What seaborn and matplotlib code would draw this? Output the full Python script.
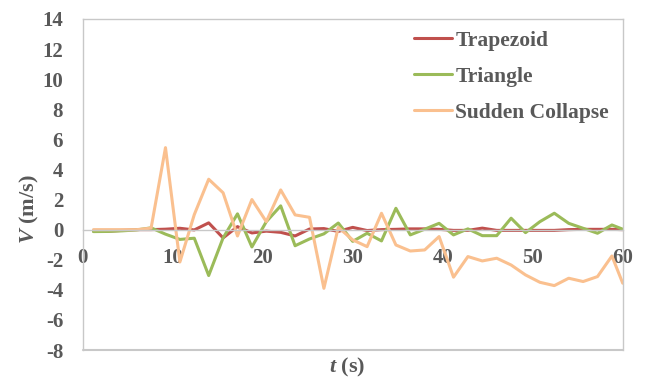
import numpy as np
import pandas as pd
import matplotlib
matplotlib.use("Agg")
import matplotlib.pyplot as plt
import seaborn as sns

# Sampling times (s)
time_s = [1.2, 2.8, 4.4, 6.0, 7.6, 9.2, 10.8, 12.4, 14.0, 15.6,
          17.2, 18.8, 20.4, 22.0, 23.6, 25.2, 26.8, 28.4, 30.0, 31.6,
          33.2, 34.8, 36.4, 38.0, 39.6, 41.2, 42.8, 44.4, 46.0, 47.6,
          49.2, 50.8, 52.4, 54.0, 55.6, 57.2, 58.8, 60.0]

# Velocity V (m/s) for each breach shape
trapezoid = [-0.10, -0.10, -0.05, 0.00, 0.00, 0.03, 0.09, -0.02, 0.45, -0.55,
             0.20, -0.22, -0.10, -0.18, -0.42, 0.04, 0.07, -0.12, 0.15, -0.06,
             0.00, 0.02, 0.05, 0.05, 0.02, -0.05, -0.05, 0.10, -0.05, -0.05,
             -0.05, -0.05, -0.05, 0.00, 0.02, 0.02, 0.02, 0.00]
triangle = [-0.13, -0.12, -0.08, -0.02, 0.12, -0.30, -0.65, -0.57, -3.05, -0.55,
            1.05, -1.15, 0.53, 1.58, -1.07, -0.62, -0.28, 0.44, -0.78, -0.24,
            -0.75, 1.42, -0.35, 0.03, 0.42, -0.35, 0.05, -0.40, -0.40, 0.76,
            -0.20, 0.53, 1.09, 0.42, 0.09, -0.24, 0.31, 0.03]
sudden_collapse = [0.00, 0.00, 0.00, 0.00, 0.10, 5.45, -2.15, 1.00, 3.35, 2.45,
                   -0.42, 2.00, 0.53, 2.64, 0.98, 0.82, -3.90, 0.15, -0.68, -1.13,
                   1.09, -1.02, -1.42, -1.35, -0.46, -3.16, -1.79, -2.08, -1.90, -2.35,
                   -3.01, -3.50, -3.72, -3.23, -3.45, -3.12, -1.75, -3.56]

series_names = ["Trapezoid", "Triangle", "Sudden Collapse"]
series_colors = ["#C0504D", "#9BBB59", "#FAC08F"]

x_ticks = [0, 10, 20, 30, 40, 50, 60]
y_ticks = [-8, -6, -4, -2, 0, 2, 4, 6, 8, 10, 12, 14]

df = pd.concat([
    pd.DataFrame({"t": time_s, "V": vals, "series": name})
    for name, vals in zip(series_names, [trapezoid, triangle, sudden_collapse])
], ignore_index=True)

sns.set_style("white")
plt.rcParams["font.family"] = ["Liberation Serif", "DejaVu Serif"]
plt.rcParams["font.weight"] = "bold"
plt.rcParams["mathtext.fontset"] = "custom"
plt.rcParams["mathtext.it"] = "Liberation Serif:italic:bold"
plt.rcParams["mathtext.rm"] = "Liberation Serif:bold"

text_color = "#595959"
frame_color = "#C8C8C8"

fig = plt.figure(figsize=(6.49, 3.79), dpi=100)
ax = fig.add_axes([0.1274, 0.0765, 0.8321, 0.8734])

sns.lineplot(data=df, x="t", y="V", hue="series", hue_order=series_names,
             palette=series_colors, linewidth=2.2, ax=ax, legend=True,
             sort=False)

ax.set_xlim(0, 60)
ax.set_ylim(-8, 14)
ax.set_xticks(x_ticks)
ax.set_yticks(y_ticks)
ax.set_xticklabels([str(v) for v in x_ticks])
ax.set_yticklabels([str(v) for v in y_ticks])

# Horizontal axis crosses at V = 0; plot-area border drawn around it
ax.spines["bottom"].set_position(("data", 0))
ax.spines["bottom"].set_color(frame_color)
ax.spines["bottom"].set_linewidth(1.0)
for side in ["left", "right", "top"]:
    ax.spines[side].set_color(frame_color)
    ax.spines[side].set_linewidth(1.0)
ax.axhline(-8, color=frame_color, linewidth=1.5, clip_on=False, zorder=0)

ax.tick_params(axis="x", length=0, pad=13, labelsize=15, labelcolor=text_color)
ax.tick_params(axis="y", length=0, pad=14, labelsize=15, labelcolor=text_color)
for lab in ax.get_xticklabels() + ax.get_yticklabels():
    lab.set_fontweight("bold")

ax.set_xlabel(r"$t$ (s)", fontsize=16, color=text_color, fontweight="bold")
ax.set_ylabel(r"$V$ (m/s)", fontsize=16, color=text_color, fontweight="bold")
ax.xaxis.set_label_coords(0.49, -0.018)
ax.yaxis.set_label_coords(-0.078, 0.425)

leg = ax.legend(loc="upper left", bbox_to_anchor=(0.598, 0.99), frameon=False,
                fontsize=15.5, handlelength=1.75, handletextpad=0.15,
                labelspacing=0.74, borderaxespad=0.0)
for txt in leg.get_texts():
    txt.set_color(text_color)
    txt.set_fontweight("bold")
for line in leg.get_lines():
    line.set_linewidth(2.2)

fig.savefig("out.png", dpi=100)
